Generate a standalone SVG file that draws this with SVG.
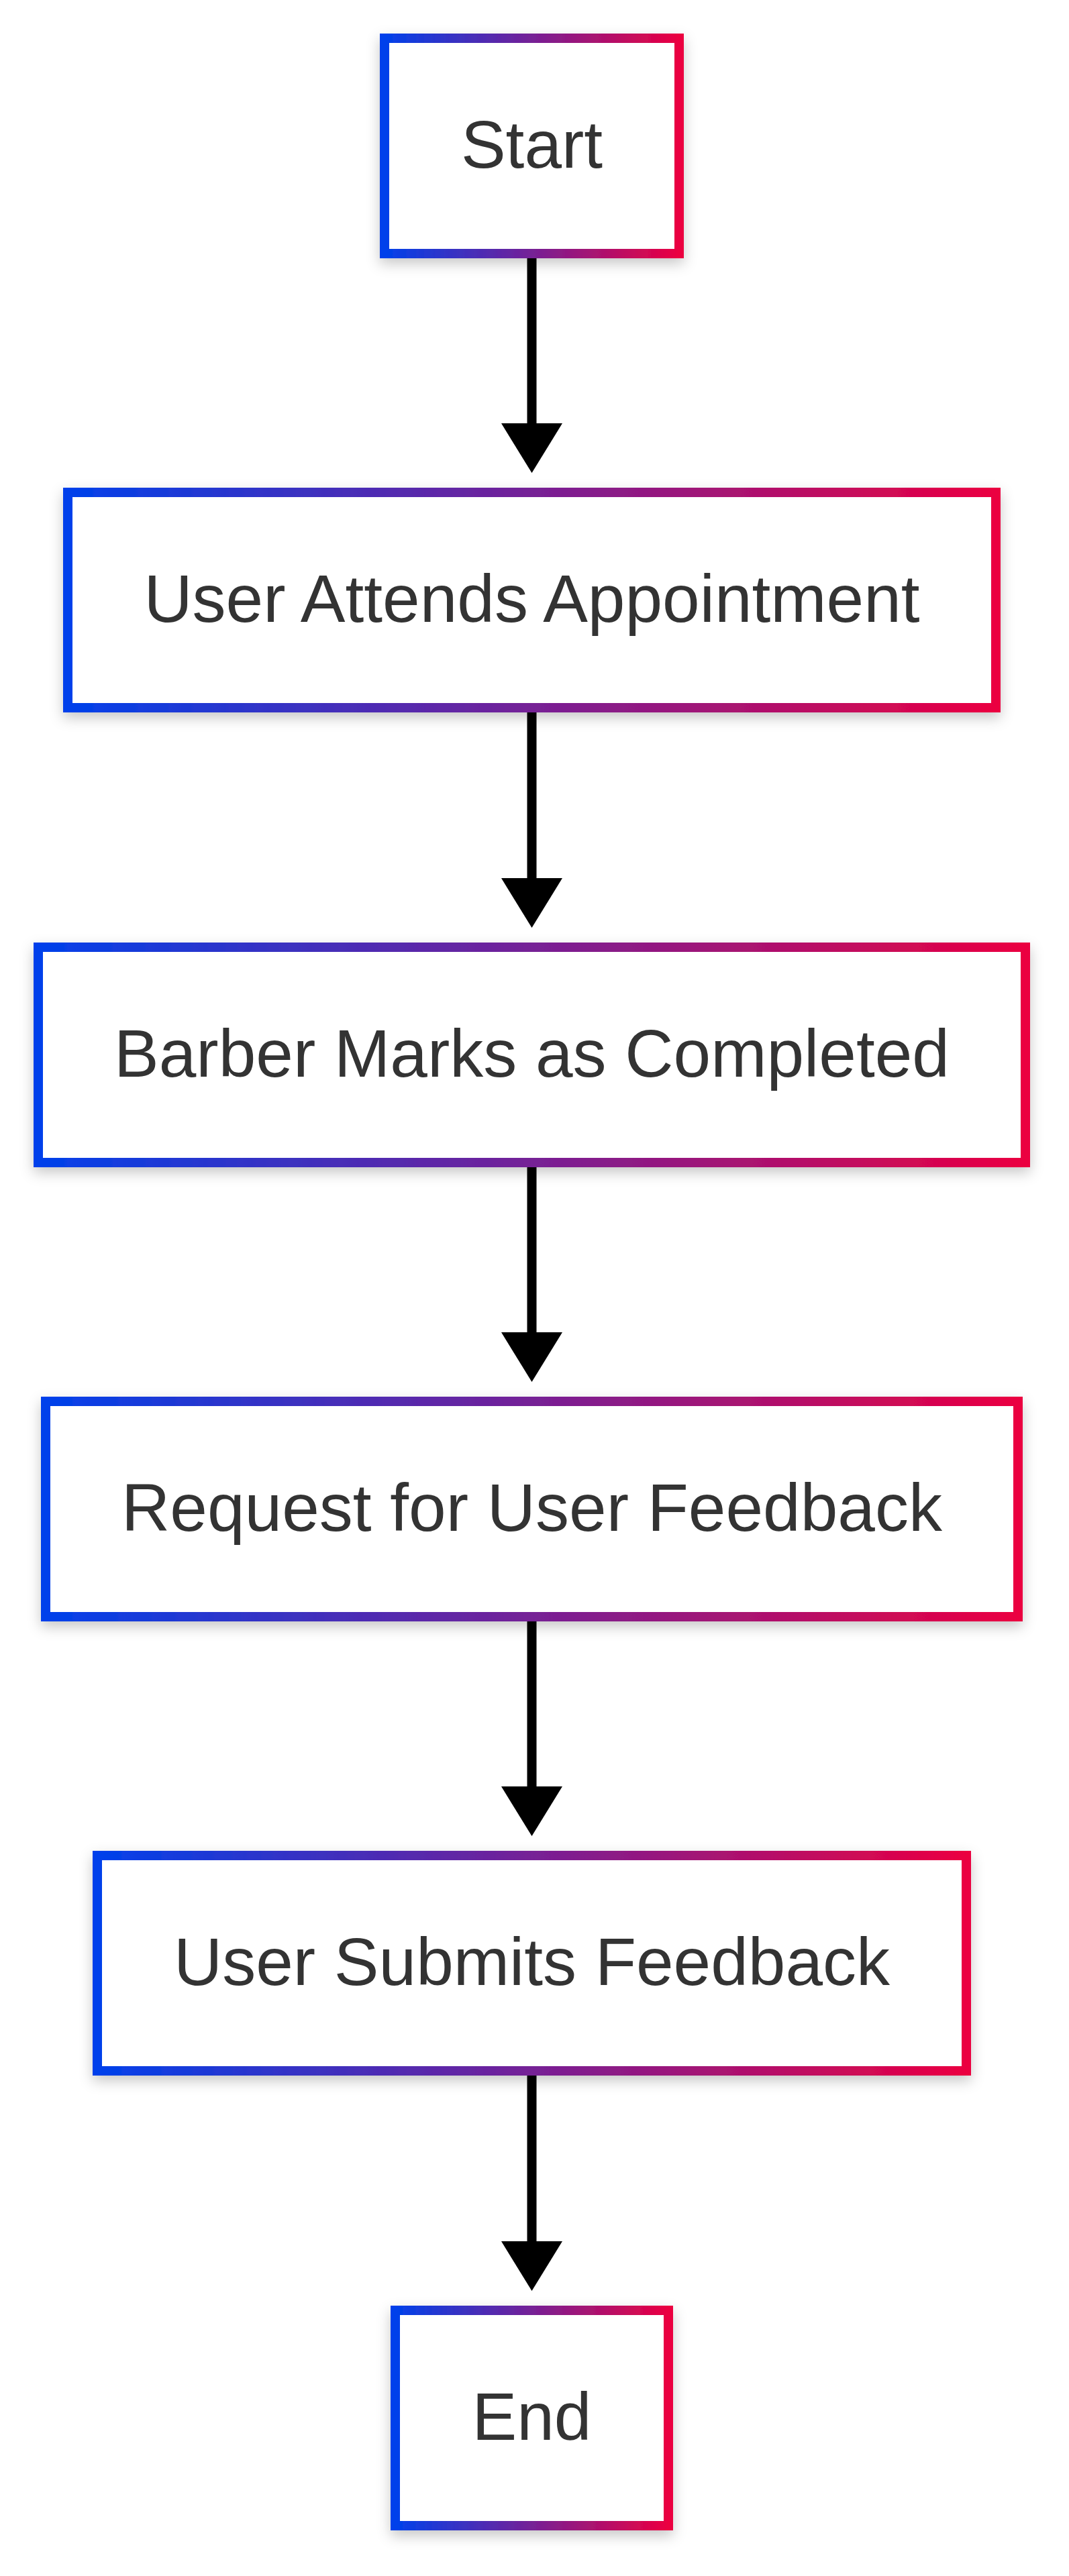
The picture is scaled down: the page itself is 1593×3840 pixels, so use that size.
<svg xmlns="http://www.w3.org/2000/svg" width="1593" height="3840" viewBox="0 0 1593 3840">
<style>
.box{fill:#ffffff;stroke:url(#grad);stroke-width:14;filter:url(#shadow);}
.lbl{font-family:"Liberation Sans",Arial,sans-serif;font-size:100px;fill:#333333;text-anchor:middle;}
.edge{stroke:#000000;stroke-width:14;fill:none;marker-end:url(#arrow);}
</style>
<defs>
<linearGradient id="grad" x1="0" y1="0" x2="1" y2="0">
<stop offset="0" stop-color="#0041EB"/>
<stop offset="1" stop-color="#EB0041"/>
</linearGradient>
<filter id="shadow" x="-10%" y="-20%" width="120%" height="150%">
<feDropShadow dx="0" dy="8" stdDeviation="10" flood-color="#000000" flood-opacity="0.22"/>
</filter>
<marker id="arrow" markerUnits="userSpaceOnUse" markerWidth="74" markerHeight="91" viewBox="0 0 74 91" refX="0" refY="45.5" orient="auto">
<path d="M0,0 L74,45.5 L0,91 Z" fill="#000000"/>
</marker>
</defs>
<rect width="1593" height="3840" fill="#ffffff"/>
<g id="connectors">
<path class="edge" d="M792.5,385 L792.5,631"/>
<path class="edge" d="M792.5,1062 L792.5,1309"/>
<path class="edge" d="M792.5,1740 L792.5,1986"/>
<path class="edge" d="M792.5,2417 L792.5,2663"/>
<path class="edge" d="M792.5,3094 L792.5,3341"/>
</g>
<g id="node-start">
<rect class="box" x="573" y="57" width="439" height="321"/>
<text class="lbl" x="792.5" y="250">Start</text>
</g>
<g id="node-attends">
<rect class="box" x="101" y="734" width="1383" height="321"/>
<text class="lbl" x="792.5" y="927">User Attends Appointment</text>
</g>
<g id="node-barber">
<rect class="box" x="57" y="1412" width="1471" height="321"/>
<text class="lbl" x="792.5" y="1605">Barber Marks as Completed</text>
</g>
<g id="node-request">
<rect class="box" x="68" y="2089" width="1449" height="321"/>
<text class="lbl" x="792.5" y="2282">Request for User Feedback</text>
</g>
<g id="node-submits">
<rect class="box" x="145" y="2766" width="1295" height="321"/>
<text class="lbl" x="792.5" y="2959">User Submits Feedback</text>
</g>
<g id="node-end">
<rect class="box" x="589" y="3444" width="407" height="321"/>
<text class="lbl" x="792.5" y="3637">End</text>
</g>
</svg>
